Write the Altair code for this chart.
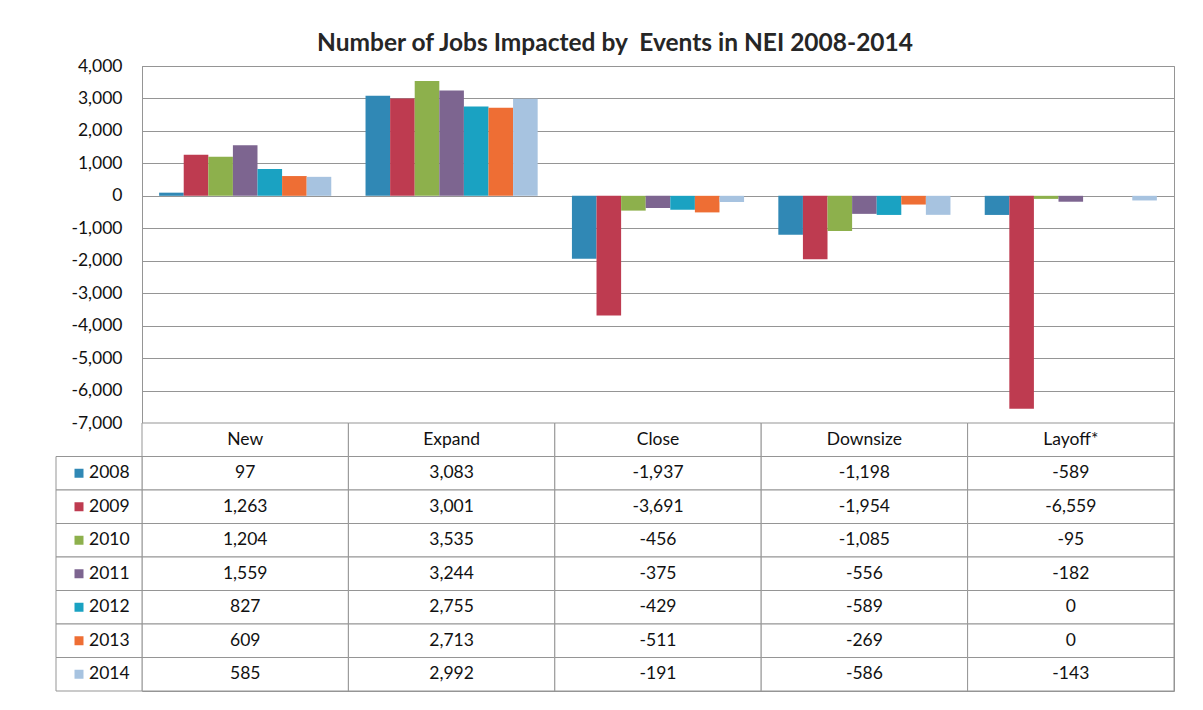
import pandas as pd
import altair as alt

categories = ["New", "Expand", "Close", "Downsize", "Layoff*"]
years = ["2008", "2009", "2010", "2011", "2012", "2013", "2014"]
colors = ["#3088B5", "#BE3B50", "#8DB04C", "#7D6590", "#1AA2C2", "#EE6E34", "#A7C3E0"]

new_jobs = [97, 1263, 1204, 1559, 827, 609, 585]
expand_jobs = [3083, 3001, 3535, 3244, 2755, 2713, 2992]
close_jobs = [-1937, -3691, -456, -375, -429, -511, -191]
downsize_jobs = [-1198, -1954, -1085, -556, -589, -269, -586]
layoff_jobs = [-589, -6559, -95, -182, 0, 0, -143]

y_ticks = [-7000, -6000, -5000, -4000, -3000, -2000, -1000, 0, 1000, 2000, 3000, 4000]

series = dict(zip(categories, [new_jobs, expand_jobs, close_jobs, downsize_jobs, layoff_jobs]))

rows = []
for cat in categories:
    for yr, v in zip(years, series[cat]):
        rows.append({"category": cat, "year": yr, "jobs": v})
df = pd.DataFrame(rows)

# table cells: header row + one row per year
table_rows = ["hdr"] + years
cells = []
for cat in categories:
    cells.append({"category": cat, "row": "hdr", "label": cat})
    for yr, v in zip(years, series[cat]):
        cells.append({"category": cat, "row": yr, "label": f"{v:,}"})
cells = pd.DataFrame(cells)
legend_df = pd.DataFrame({"row": years, "year": years})

FONT = "Lato"
FS = 17.5
GRID = "#959595"
color_scale = alt.Scale(domain=years, range=colors)

bars = alt.Chart(df).mark_bar().encode(
    x=alt.X("category:N", sort=categories,
            scale=alt.Scale(domain=categories, paddingInner=0.166, paddingOuter=0.083),
            axis=None),
    xOffset=alt.XOffset("year:N", sort=years, scale=alt.Scale(paddingInner=0, paddingOuter=0)),
    y=alt.Y("jobs:Q", scale=alt.Scale(domain=[-7000, 4000], nice=False, zero=False),
            axis=alt.Axis(values=y_ticks, format=",d", title=None, ticks=False,
                          labelExpr="replace(datum.label, '\u2212', '-')",
                          labelPadding=20, labelFontSize=FS, labelColor="#111",
                          labelFont=FONT, gridColor=GRID, domainColor=GRID)),
    color=alt.Color("year:N", scale=color_scale, legend=None),
).properties(width=1032, height=357)

ty = alt.Y("row:N", sort=table_rows, scale=alt.Scale(domain=table_rows, paddingInner=0, paddingOuter=0), axis=None)
tx = alt.X("category:N", sort=categories, scale=alt.Scale(domain=categories, paddingInner=0, paddingOuter=0), axis=None)

cell_rects = alt.Chart(cells).mark_rect(fill="white", stroke=GRID, strokeWidth=1).encode(x=tx, y=ty)
cell_text = alt.Chart(cells).mark_text(font=FONT, fontSize=FS, color="#111").encode(
    x=tx, y=ty, text="label:N")
leg_rects = alt.Chart(legend_df).mark_rect(fill="white", stroke=GRID, strokeWidth=1).encode(
    x=alt.value(-86), x2=alt.value(0), y=ty)
leg_squares = alt.Chart(legend_df).mark_square(size=81, opacity=1).encode(
    x=alt.value(-63), y=ty, color=alt.Color("year:N", scale=color_scale, legend=None))
leg_text = alt.Chart(legend_df).mark_text(font=FONT, fontSize=FS, align="left", color="#111").encode(
    x=alt.value(-53), y=ty, text="year:N")

table = alt.layer(cell_rects, cell_text, leg_rects, leg_squares, leg_text).properties(
    width=1032, height=268)

chart = alt.vconcat(bars, table, spacing=0, bounds="flush").properties(
    title=alt.TitleParams("Number of Jobs Impacted by\u00a0 Events in NEI 2008-2014",
                          font=FONT, fontSize=24.5, fontWeight="bold", color="#262626",
                          anchor="middle", offset=0),
    padding={"left": 47, "top": 23, "right": 10, "bottom": 10},
    background="white",
).configure_view(stroke=GRID, strokeWidth=1)

chart.save("out.html", embed_options={"renderer": "svg", "actions": False})
